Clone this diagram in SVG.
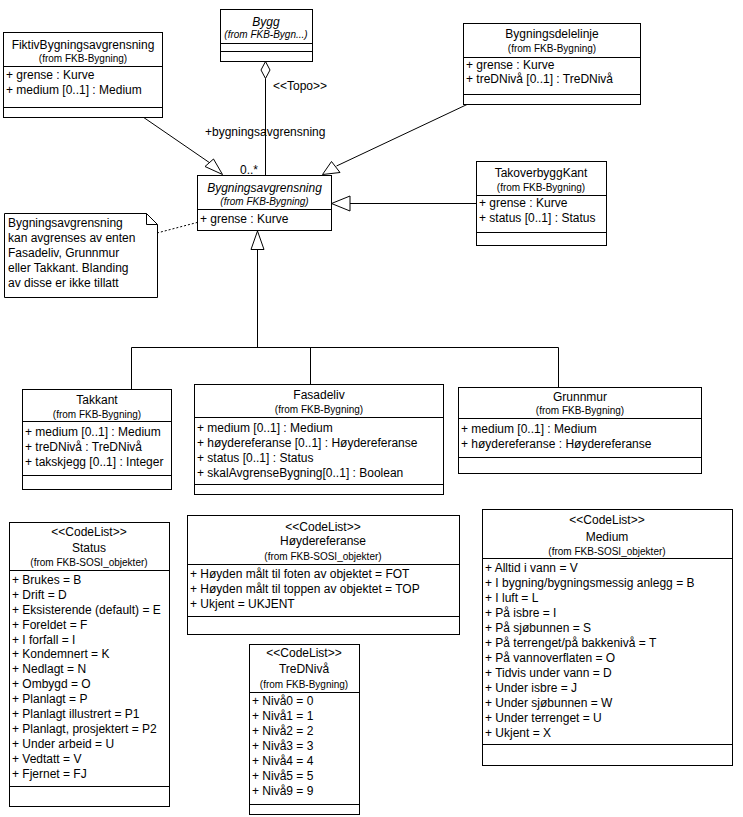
<svg xmlns="http://www.w3.org/2000/svg" width="743" height="817" viewBox="0 0 743 817">
<style>
.bx{fill:#fff;stroke:#000;stroke-width:1}
.ln{stroke:#000;stroke-width:1;fill:none}
.tri{fill:#fff;stroke:#000;stroke-width:1}
text{font-family:"Liberation Sans",Arial,sans-serif;font-size:12px;fill:#000}
.c{text-anchor:middle}
.f{font-size:10px}
.it{font-style:italic}
</style>
<rect x="0" y="0" width="743" height="817" fill="#fff"/>
<g id="connectors">
<line class="ln" x1="143" y1="117" x2="210" y2="163"/>
<polygon class="tri" points="205,166.5 213.5,159 222.5,174.5"/>
<line class="ln" x1="467" y1="104.5" x2="336.5" y2="166"/>
<polygon class="tri" points="322.5,174.5 331.5,161.5 340,172.5"/>
<line class="ln" x1="476" y1="203.5" x2="350" y2="203.5"/>
<polygon class="tri" points="331.5,203.5 350,196 350,211"/>
<polygon class="tri" points="257.5,231 251,249.5 264,249.5"/>
<polyline class="ln" points="257.5,249.5 257.5,347.5"/>
<line class="ln" x1="131.5" y1="347.5" x2="558.5" y2="347.5"/>
<line class="ln" x1="131.5" y1="347.5" x2="131.5" y2="389"/>
<line class="ln" x1="310.5" y1="347.5" x2="310.5" y2="384"/>
<line class="ln" x1="558.5" y1="347.5" x2="558.5" y2="387"/>
<polygon class="tri" points="265.5,61.5 270,70 265.5,78.5 261,70"/>
<line class="ln" x1="265.5" y1="78.5" x2="265.5" y2="175"/>
<text x="273" y="90">&lt;&lt;Topo&gt;&gt;</text>
<text x="205" y="136">+bygningsavgrensning</text>
<text x="240" y="174">0..*</text>
<line class="ln" x1="157" y1="233" x2="197" y2="222.5" stroke-dasharray="2,2"/>
</g>
<g id="note">
<polygon class="bx" points="4.5,213.5 146.5,213.5 157.5,224.5 157.5,297.5 4.5,297.5"/>
<polyline class="ln" points="146.5,213.5 146.5,224.5 157.5,224.5"/>
<text x="8" y="227">Bygningsavgrensning</text>
<text x="8" y="242">kan avgrenses av enten</text>
<text x="8" y="257">Fasadeliv, Grunnmur</text>
<text x="8" y="272">eller Takkant. Blanding</text>
<text x="8" y="287">av disse er ikke tillatt</text>
</g>
<g id="FiktivBygningsavgrensning">
<rect class="bx" x="3.5" y="32.5" width="159" height="85"/>
<line class="ln" x1="3.5" y1="66.5" x2="162.5" y2="66.5"/>
<line class="ln" x1="3.5" y1="107.5" x2="162.5" y2="107.5"/>
<text class="c" x="83" y="49">FiktivBygningsavgrensning</text>
<text class="c f" x="83" y="62">(from FKB-Bygning)</text>
<text x="6" y="79">+ grense : Kurve</text>
<text x="6" y="94">+ medium [0..1] : Medium</text>
</g>
<g id="Bygg">
<rect class="bx" x="220.5" y="9.5" width="92" height="52"/>
<line class="ln" x1="220.5" y1="43.5" x2="312.5" y2="43.5"/>
<line class="ln" x1="220.5" y1="51.5" x2="312.5" y2="51.5"/>
<text class="c it" x="266" y="26">Bygg</text>
<text class="c f it" x="266" y="38">(from FKB-Bygn...)</text>
</g>
<g id="Bygningsdelelinje">
<rect class="bx" x="463.5" y="23.5" width="177" height="81"/>
<line class="ln" x1="463.5" y1="57.5" x2="640.5" y2="57.5"/>
<line class="ln" x1="463.5" y1="94.5" x2="640.5" y2="94.5"/>
<text class="c" x="552" y="38">Bygningsdelelinje</text>
<text class="c f" x="552" y="52">(from FKB-Bygning)</text>
<text x="466" y="69">+ grense : Kurve</text>
<text x="466" y="83">+ treDNivå [0..1] : TreDNivå</text>
</g>
<g id="Bygningsavgrensning">
<rect class="bx" x="197.5" y="175.5" width="134" height="55"/>
<line class="ln" x1="197.5" y1="209.5" x2="331.5" y2="209.5"/>
<text class="c it" x="264.5" y="192">Bygningsavgrensning</text>
<text class="c f it" x="264.5" y="205">(from FKB-Bygning)</text>
<text x="200" y="223">+ grense : Kurve</text>
</g>
<g id="TakoverbyggKant">
<rect class="bx" x="476.5" y="161.5" width="130" height="84"/>
<line class="ln" x1="476.5" y1="195.5" x2="606.5" y2="195.5"/>
<line class="ln" x1="476.5" y1="232.5" x2="606.5" y2="232.5"/>
<text class="c" x="541" y="177">TakoverbyggKant</text>
<text class="c f" x="541" y="191">(from FKB-Bygning)</text>
<text x="479" y="207">+ grense : Kurve</text>
<text x="479" y="222">+ status [0..1] : Status</text>
</g>
<g id="Takkant">
<rect class="bx" x="22.5" y="389.5" width="149" height="100"/>
<line class="ln" x1="22.5" y1="421.5" x2="171.5" y2="421.5"/>
<line class="ln" x1="22.5" y1="475.5" x2="171.5" y2="475.5"/>
<text class="c" x="97" y="404">Takkant</text>
<text class="c f" x="97" y="418">(from FKB-Bygning)</text>
<text x="25" y="436">+ medium [0..1] : Medium</text>
<text x="25" y="451">+ treDNivå : TreDNivå</text>
<text x="25" y="466">+ takskjegg [0..1] : Integer</text>
</g>
<g id="Fasadeliv">
<rect class="bx" x="194.5" y="384.5" width="249" height="110"/>
<line class="ln" x1="194.5" y1="417.5" x2="443.5" y2="417.5"/>
<line class="ln" x1="194.5" y1="484.5" x2="443.5" y2="484.5"/>
<text class="c" x="319" y="399">Fasadeliv</text>
<text class="c f" x="319" y="413">(from FKB-Bygning)</text>
<text x="197" y="432">+ medium [0..1] : Medium</text>
<text x="197" y="447">+ høydereferanse [0..1] : Høydereferanse</text>
<text x="197" y="462">+ status [0..1] : Status</text>
<text x="197" y="477">+ skalAvgrenseBygning[0..1] : Boolean</text>
</g>
<g id="Grunnmur">
<rect class="bx" x="458.5" y="387.5" width="243" height="86"/>
<line class="ln" x1="458.5" y1="418.5" x2="701.5" y2="418.5"/>
<line class="ln" x1="458.5" y1="457.5" x2="701.5" y2="457.5"/>
<text class="c" x="580" y="401">Grunnmur</text>
<text class="c f" x="580" y="414">(from FKB-Bygning)</text>
<text x="461" y="433">+ medium [0..1] : Medium</text>
<text x="461" y="448">+ høydereferanse : Høydereferanse</text>
</g>
<g id="Status">
<rect class="bx" x="9.5" y="522.5" width="160" height="284"/>
<line class="ln" x1="9.5" y1="570.5" x2="169.5" y2="570.5"/>
<line class="ln" x1="9.5" y1="786.5" x2="169.5" y2="786.5"/>
<text class="c" x="89" y="536">&lt;&lt;CodeList&gt;&gt;</text>
<text class="c" x="89" y="552">Status</text>
<text class="c f" x="89" y="566">(from FKB-SOSI_objekter)</text>
<text x="12" y="584">+ Brukes = B</text>
<text x="12" y="599">+ Drift = D</text>
<text x="12" y="614">+ Eksisterende (default) = E</text>
<text x="12" y="629">+ Foreldet = F</text>
<text x="12" y="644">+ I forfall = I</text>
<text x="12" y="658">+ Kondemnert = K</text>
<text x="12" y="673">+ Nedlagt = N</text>
<text x="12" y="688">+ Ombygd = O</text>
<text x="12" y="703">+ Planlagt = P</text>
<text x="12" y="718">+ Planlagt illustrert = P1</text>
<text x="12" y="733">+ Planlagt, prosjektert = P2</text>
<text x="12" y="748">+ Under arbeid = U</text>
<text x="12" y="763">+ Vedtatt = V</text>
<text x="12" y="778">+ Fjernet = FJ</text>
</g>
<g id="Hoydereferanse">
<rect class="bx" x="187.5" y="515.5" width="272" height="119"/>
<line class="ln" x1="187.5" y1="564.5" x2="459.5" y2="564.5"/>
<line class="ln" x1="187.5" y1="616.5" x2="459.5" y2="616.5"/>
<text class="c" x="323" y="531">&lt;&lt;CodeList&gt;&gt;</text>
<text class="c" x="323" y="545">Høydereferanse</text>
<text class="c f" x="323" y="560">(from FKB-SOSI_objekter)</text>
<text x="190" y="578">+ Høyden målt til foten av objektet = FOT</text>
<text x="190" y="593">+ Høyden målt til toppen av objektet = TOP</text>
<text x="190" y="608">+ Ukjent = UKJENT</text>
</g>
<g id="TreDNiva">
<rect class="bx" x="249.5" y="644.5" width="110" height="170"/>
<line class="ln" x1="249.5" y1="692.5" x2="359.5" y2="692.5"/>
<line class="ln" x1="249.5" y1="804.5" x2="359.5" y2="804.5"/>
<text class="c" x="304" y="657">&lt;&lt;CodeList&gt;&gt;</text>
<text class="c" x="304" y="673">TreDNivå</text>
<text class="c f" x="304" y="688">(from FKB-Bygning)</text>
<text x="252" y="705">+ Nivå0 = 0</text>
<text x="252" y="720">+ Nivå1 = 1</text>
<text x="252" y="735">+ Nivå2 = 2</text>
<text x="252" y="750">+ Nivå3 = 3</text>
<text x="252" y="765">+ Nivå4 = 4</text>
<text x="252" y="780">+ Nivå5 = 5</text>
<text x="252" y="795">+ Nivå9 = 9</text>
</g>
<g id="Medium">
<rect class="bx" x="482.5" y="509.5" width="250" height="256"/>
<line class="ln" x1="482.5" y1="558.5" x2="732.5" y2="558.5"/>
<line class="ln" x1="482.5" y1="744.5" x2="732.5" y2="744.5"/>
<text class="c" x="607" y="524">&lt;&lt;CodeList&gt;&gt;</text>
<text class="c" x="607" y="541">Medium</text>
<text class="c f" x="607" y="555">(from FKB-SOSI_objekter)</text>
<text x="485" y="572">+ Alltid i vann = V</text>
<text x="485" y="587">+ I bygning/bygningsmessig anlegg = B</text>
<text x="485" y="602">+ I luft = L</text>
<text x="485" y="617">+ På isbre = I</text>
<text x="485" y="632">+ På sjøbunnen = S</text>
<text x="485" y="647">+ På terrenget/på bakkenivå = T</text>
<text x="485" y="662">+ På vannoverflaten = O</text>
<text x="485" y="677">+ Tidvis under vann = D</text>
<text x="485" y="692">+ Under isbre = J</text>
<text x="485" y="707">+ Under sjøbunnen = W</text>
<text x="485" y="722">+ Under terrenget = U</text>
<text x="485" y="737">+ Ukjent = X</text>
</g>
</svg>
